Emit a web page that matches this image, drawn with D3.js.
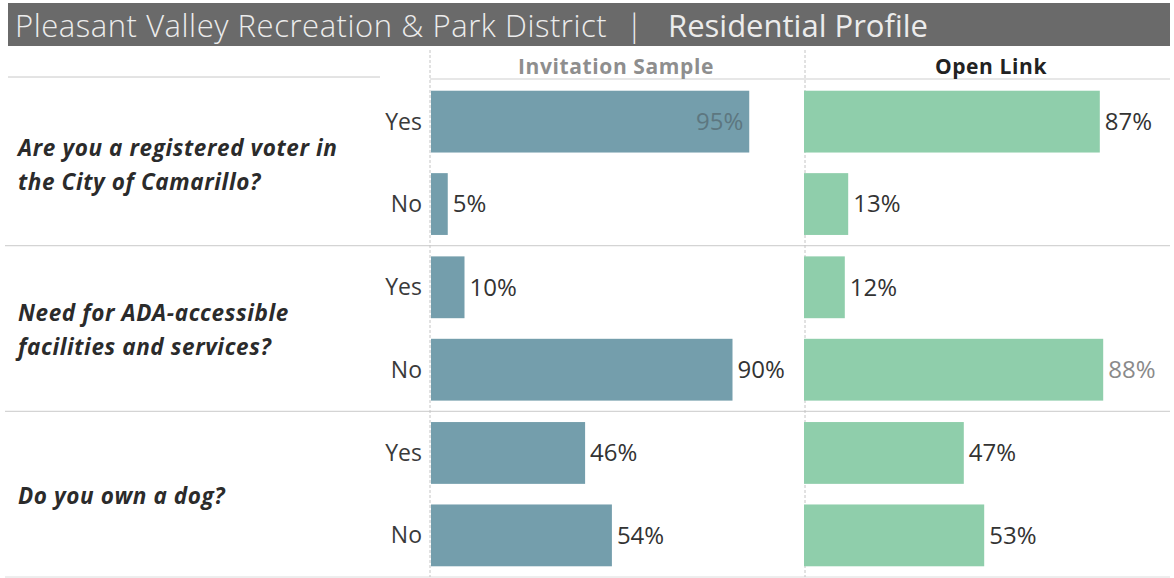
<!DOCTYPE html>
<html>
<head>
<meta charset="utf-8">
<script src="https://cdn.jsdelivr.net/npm/d3@7"></script>
<style>
  html, body { margin: 0; padding: 0; background: #fff; }
  svg { display: block; }
  text { font-family: "Open Sans", Lato, sans-serif; }
</style>
</head>
<body>
<svg id="chart" width="1174" height="578"></svg>
<script>
// Survey questions (multi-line labels) and answer options
const questions = [
  ["Are you a registered voter in", "the City of Camarillo?"],
  ["Need for ADA-accessible", "facilities and services?"],
  ["Do you own a dog?"]
];
const answers = ["Yes", "No"];

// Percent of respondents per question, in answer order (Yes, No)
const invitationSample = [[95, 5], [10, 90], [46, 54]];
const openLink = [[87, 13], [12, 88], [47, 53]];

const panels = ["Invitation Sample", "Open Link"];

const svg = d3.select("#chart");

// ---- Title bar ----
svg.append("rect").attr("x", 8).attr("y", 3).attr("width", 1162).attr("height", 43)
  .attr("fill", "#6a6a6a");
const title = svg.append("text").attr("y", 37)
  .attr("fill", "#ececec").attr("font-size", 31);
title.append("tspan").attr("x", 15).attr("font-weight", 300).attr("letter-spacing", 0.55)
  .text("Pleasant Valley Recreation & Park District");
title.append("tspan").attr("font-weight", 300).attr("x", 626).text("|");
title.append("tspan").attr("font-weight", 400).attr("x", 668).text("Residential Profile");

// ---- Layout scales ----
const plotTop = 80, plotBottom = 577;
const yGroup = d3.scaleBand().domain(d3.range(questions.length)).range([plotTop, plotBottom]).padding(0);
const yInner = d3.scaleBand().domain(answers).range([0, yGroup.bandwidth()])
  .paddingInner(0.25).paddingOuter(0.13);

const paneLeft = [431, 804];
const xLeft = d3.scaleLinear().domain([0, 100]).range([paneLeft[0], paneLeft[0] + 335]);
const xRight = d3.scaleLinear().domain([0, 100]).range([paneLeft[1], paneLeft[1] + 340]);

// ---- Grid lines ----
const grid = svg.append("g");
grid.append("line").attr("x1", 8).attr("x2", 380).attr("y1", 77).attr("y2", 77)
  .attr("stroke", "#c8c8c8").attr("stroke-width", 1);
grid.append("line").attr("x1", 430).attr("x2", 1170).attr("y1", 79).attr("y2", 79)
  .attr("stroke", "#d0d0d0").attr("stroke-width", 1.2);
d3.range(1, questions.length).forEach(i => {
  grid.append("line").attr("x1", 5).attr("x2", 1170)
    .attr("y1", yGroup(i)).attr("y2", yGroup(i))
    .attr("stroke", "#d4d4d4").attr("stroke-width", 1.3);
});
grid.append("line").attr("x1", 5).attr("x2", 1170).attr("y1", plotBottom).attr("y2", plotBottom)
  .attr("stroke", "#dcdcdc").attr("stroke-width", 1);
[430, 805].forEach(x => {
  grid.append("line").attr("x1", x).attr("x2", x).attr("y1", 50).attr("y2", plotBottom)
    .attr("stroke", "#c4c4c4").attr("stroke-width", 1).attr("stroke-dasharray", "3,2");
});

// ---- Column headers ----
svg.append("text").attr("x", 616).attr("y", 74).attr("text-anchor", "middle")
  .attr("font-size", 21).attr("font-weight", 700).attr("letter-spacing", 0.6)
  .attr("fill", "#8e8e8e").text(panels[0]);
svg.append("text").attr("x", 991).attr("y", 74).attr("text-anchor", "middle")
  .attr("font-size", 21).attr("font-weight", 700).attr("letter-spacing", 0.6)
  .attr("fill", "#222").text(panels[1]);

// ---- Question labels ----
questions.forEach((lines, i) => {
  const cy = yGroup(i) + yGroup.bandwidth() / 2 + 2;
  const lh = 34;
  const t = svg.append("text").attr("font-size", 22.5).attr("letter-spacing", 0.6)
    .attr("font-weight", 700).attr("font-style", "italic").attr("fill", "#2b2b2b");
  lines.forEach((ln, j) => {
    t.append("tspan").attr("x", 18)
      .attr("y", cy + (j - (lines.length - 1) / 2) * lh)
      .attr("dy", "0.35em").text(ln);
  });
});

// ---- Answer labels ----
questions.forEach((q, i) => {
  answers.forEach(a => {
    svg.append("text").attr("x", 422)
      .attr("y", yGroup(i) + yInner(a) + yInner.bandwidth() / 2)
      .attr("dy", "0.35em").attr("text-anchor", "end")
      .attr("font-size", 23).attr("fill", "#3a3a3a").text(a);
  });
});

// ---- Bars ----
function drawPanel(values, x, color, labelStyle) {
  const g = svg.append("g");
  values.forEach((row, i) => {
    row.forEach((v, j) => {
      const a = answers[j];
      const y0 = yGroup(i) + yInner(a);
      g.append("rect").attr("x", x(0)).attr("y", y0)
        .attr("width", x(v) - x(0)).attr("height", yInner.bandwidth())
        .attr("fill", color);
      const st = labelStyle(i, j);
      g.append("text")
        .attr("x", st.inside ? x(v) - 6 : x(v) + 5)
        .attr("y", y0 + yInner.bandwidth() / 2)
        .attr("dy", "0.35em")
        .attr("text-anchor", st.inside ? "end" : "start")
        .attr("font-size", 24).attr("fill", st.color)
        .text(v + "%");
    });
  });
}

drawPanel(invitationSample, xLeft, "#749eac", (i, j) =>
  (i === 0 && j === 0) ? { inside: true, color: "#5d7780" } : { inside: false, color: "#333" });
drawPanel(openLink, xRight, "#8fceab", (i, j) =>
  (i === 1 && j === 1) ? { inside: false, color: "#8a8a8a" } : { inside: false, color: "#333" });
</script>
</body>
</html>
